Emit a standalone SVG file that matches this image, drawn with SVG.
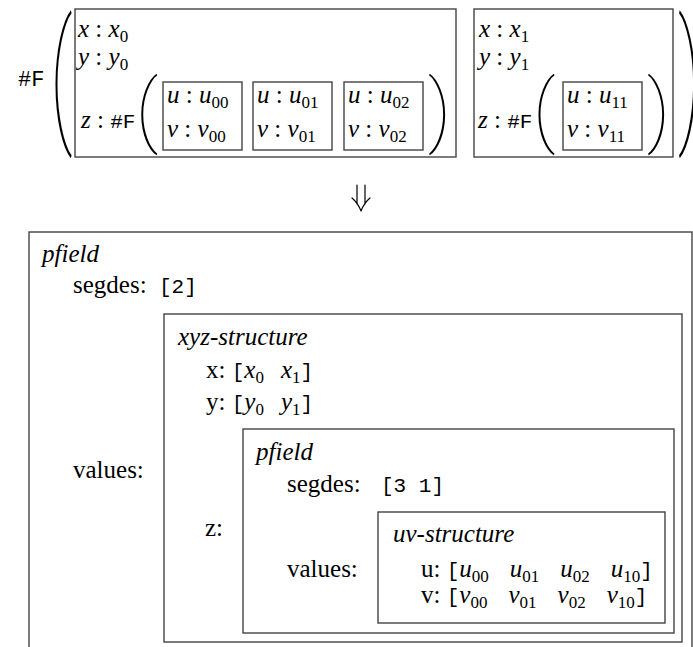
<svg xmlns="http://www.w3.org/2000/svg" width="693" height="647" viewBox="0 0 693 647" font-family="'Liberation Serif', 'Times New Roman', serif">
<style>
text { font-family: "Liberation Serif", "Times New Roman", serif; font-size: 25px; fill: #000; }
.it { font-style: italic; }
.tt { font-family: "Liberation Mono", "Courier New", monospace; font-size: 21px; font-style: normal; }
.ttT { font-family: "Liberation Mono", "Courier New", monospace; font-size: 22px; font-style: normal; }
.ttZ { font-family: "Liberation Mono", "Courier New", monospace; font-size: 21px; font-style: normal; }
.sub { font-size: 17px; font-style: normal; }
.box { fill: none; stroke: #444; stroke-width: 1.4; }
.par { font-family: Roboto, "Open Sans", sans-serif; font-weight: 100; font-size: 76px; }
.conn { fill: none; stroke: #000; stroke-width: 1.2; stroke-linecap: round; stroke-linejoin: round; }
</style>
<rect width="693" height="647" fill="#fff"/>

<g id="top-expression">
  <text x="18" y="86" class="ttT">#F</text>
  <text class="par" transform="translate(50,125.3) scale(1,1.895)">(</text>
  <text class="par" transform="translate(678,125.3) scale(1,1.895)">)</text>
</g>

<g id="node-record0">
  <rect class="box" x="75" y="9" width="381" height="148"/>
  <text x="78" y="37"><tspan class="it">x</tspan> : <tspan class="it">x</tspan><tspan class="sub" dy="5">0</tspan></text>
  <text x="78" y="65"><tspan class="it">y</tspan> : <tspan class="it">y</tspan><tspan class="sub" dy="5">0</tspan></text>
  <text x="81" y="128"><tspan class="it">z</tspan> : <tspan class="ttZ">#F</tspan></text>
  <text class="par" transform="translate(135.8,137.4) scale(1,1.053)">(</text>
  <text class="par" transform="translate(428,137.4) scale(1,1.053)">)</text>
</g>
<g id="node-uv00">
  <rect class="box" x="163" y="82" width="79" height="68"/>
  <text x="167" y="103"><tspan class="it">u</tspan> : <tspan class="it">u</tspan><tspan class="sub" dy="5">00</tspan></text>
  <text x="167" y="137"><tspan class="it">v</tspan> : <tspan class="it">v</tspan><tspan class="sub" dy="5">00</tspan></text>
</g>
<g id="node-uv01">
  <rect class="box" x="253" y="82" width="79" height="68"/>
  <text x="257" y="103"><tspan class="it">u</tspan> : <tspan class="it">u</tspan><tspan class="sub" dy="5">01</tspan></text>
  <text x="257" y="137"><tspan class="it">v</tspan> : <tspan class="it">v</tspan><tspan class="sub" dy="5">01</tspan></text>
</g>
<g id="node-uv02">
  <rect class="box" x="344" y="82" width="79" height="68"/>
  <text x="348" y="103"><tspan class="it">u</tspan> : <tspan class="it">u</tspan><tspan class="sub" dy="5">02</tspan></text>
  <text x="348" y="137"><tspan class="it">v</tspan> : <tspan class="it">v</tspan><tspan class="sub" dy="5">02</tspan></text>
</g>

<g id="node-record1">
  <rect class="box" x="474" y="9" width="199" height="148"/>
  <text x="479" y="37"><tspan class="it">x</tspan> : <tspan class="it">x</tspan><tspan class="sub" dy="5">1</tspan></text>
  <text x="479" y="65"><tspan class="it">y</tspan> : <tspan class="it">y</tspan><tspan class="sub" dy="5">1</tspan></text>
  <text x="478" y="128"><tspan class="it">z</tspan> : <tspan class="ttZ">#F</tspan></text>
  <text class="par" transform="translate(533,137.4) scale(1,1.053)">(</text>
  <text class="par" transform="translate(647,137.4) scale(1,1.053)">)</text>
</g>
<g id="node-uv11">
  <rect class="box" x="563" y="82" width="79" height="68"/>
  <text x="567" y="103"><tspan class="it">u</tspan> : <tspan class="it">u</tspan><tspan class="sub" dy="5">11</tspan></text>
  <text x="567" y="137"><tspan class="it">v</tspan> : <tspan class="it">v</tspan><tspan class="sub" dy="5">11</tspan></text>
</g>

<g id="connectors">
  <path class="conn" d="M357,185 V204 M365,185 V204 M352,198 Q358,203 361,211 Q364,203 370,198"/>
</g>

<g id="node-pfield-outer">
  <rect class="box" x="29" y="232" width="663" height="440"/>
  <text x="42" y="262" class="it">pfield</text>
  <text x="73" y="293">segdes:<tspan class="tt" x="159">[2]</tspan></text>
  <text x="73" y="478">values:</text>
</g>

<g id="node-xyz-structure">
  <rect class="box" x="164" y="314" width="518" height="328"/>
  <text x="178" y="345" class="it">xyz-structure</text>
  <text x="206" y="378">x: <tspan class="tt">[</tspan><tspan class="it">x</tspan><tspan class="sub" dy="5">0</tspan><tspan class="it" dx="17" dy="-5">x</tspan><tspan class="sub" dy="5">1</tspan><tspan class="tt" dy="-5">]</tspan></text>
  <text x="206" y="410">y: <tspan class="tt">[</tspan><tspan class="it">y</tspan><tspan class="sub" dy="5">0</tspan><tspan class="it" dx="17" dy="-5">y</tspan><tspan class="sub" dy="5">1</tspan><tspan class="tt" dy="-5">]</tspan></text>
  <text x="205" y="536">z:</text>
</g>

<g id="node-pfield-inner">
  <rect class="box" x="243" y="429" width="431" height="204"/>
  <text x="256" y="460" class="it">pfield</text>
  <text x="287" y="492">segdes:<tspan class="tt" x="381">[3 1]</tspan></text>
  <text x="287" y="577">values:</text>
</g>

<g id="node-uv-structure">
  <rect class="box" x="378" y="512" width="287" height="111"/>
  <text x="393" y="542" class="it">uv-structure</text>
  <text x="421" y="577">u: <tspan class="tt">[</tspan><tspan class="it">u</tspan><tspan class="sub" dy="5">00</tspan><tspan class="it" dx="21" dy="-5">u</tspan><tspan class="sub" dy="5">01</tspan><tspan class="it" dx="21" dy="-5">u</tspan><tspan class="sub" dy="5">02</tspan><tspan class="it" dx="21" dy="-5">u</tspan><tspan class="sub" dy="5">10</tspan><tspan class="tt" dy="-5">]</tspan></text>
  <text x="421" y="603">v: <tspan class="tt">[</tspan><tspan class="it">v</tspan><tspan class="sub" dy="5">00</tspan><tspan class="it" dx="21" dy="-5">v</tspan><tspan class="sub" dy="5">01</tspan><tspan class="it" dx="21" dy="-5">v</tspan><tspan class="sub" dy="5">02</tspan><tspan class="it" dx="21" dy="-5">v</tspan><tspan class="sub" dy="5">10</tspan><tspan class="tt" dy="-5">]</tspan></text>
</g>
</svg>
